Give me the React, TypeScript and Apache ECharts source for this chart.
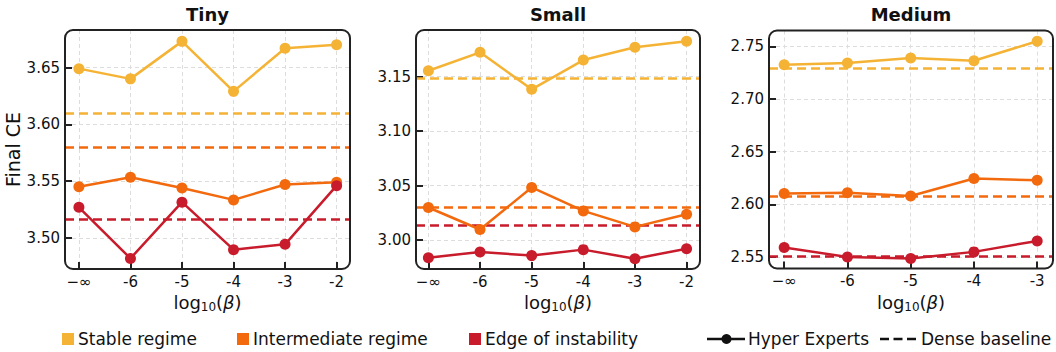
import React, { useEffect, useRef } from "react";
import * as echarts from "echarts";

const xLabelsLong = ["−∞", "-6", "-5", "-4", "-3", "-2"];
const xLabelsShort = ["−∞", "-6", "-5", "-4", "-3"];
const regimes = ["Stable regime", "Intermediate regime", "Edge of instability"];
const colors = ["#F5B335", "#F26A0D", "#C81B2B"];

const tinyStable = [3.649, 3.640, 3.673, 3.629, 3.667, 3.670];
const tinyInter = [3.545, 3.5535, 3.544, 3.5335, 3.547, 3.549];
const tinyEdge = [3.527, 3.482, 3.5315, 3.4897, 3.4944, 3.546];
const tinyBase = [3.6095, 3.5796, 3.5165];
const tinyTicks = [3.5, 3.55, 3.6, 3.65];

const smallStable = [3.1555, 3.1724, 3.1384, 3.1653, 3.177, 3.1825];
const smallInter = [3.0298, 3.0096, 3.0482, 3.0267, 3.012, 3.0236];
const smallEdge = [2.9837, 2.989, 2.9856, 2.9911, 2.9828, 2.992];
const smallBase = [3.149, 3.0298, 3.0133];
const smallTicks = [3.0, 3.05, 3.1, 3.15];

const mediumStable = [2.7326, 2.7342, 2.739, 2.7364, 2.755];
const mediumInter = [2.6102, 2.6111, 2.6079, 2.6245, 2.6229];
const mediumEdge = [2.559, 2.55, 2.5485, 2.5548, 2.5652];
const mediumBase = [2.7294, 2.6079, 2.551];
const mediumTicks = [2.55, 2.6, 2.65, 2.7, 2.75];

const FONT = "DejaVu Sans";

const panels = [
  { title: "Tiny", labels: xLabelsLong, series: [tinyStable, tinyInter, tinyEdge], base: tinyBase, ticks: tinyTicks,
    grid: { left: 65, top: 30, width: 285, height: 239 }, xMin: -0.27, xMax: 5.26, yMin: 3.4727, yMax: 3.683 },
  { title: "Small", labels: xLabelsLong, series: [smallStable, smallInter, smallEdge], base: smallBase, ticks: smallTicks,
    grid: { left: 416, top: 30, width: 284, height: 239 }, xMin: -0.24, xMax: 5.26, yMin: 2.9733, yMax: 3.1929 },
  { title: "Medium", labels: xLabelsShort, series: [mediumStable, mediumInter, mediumEdge], base: mediumBase, ticks: mediumTicks,
    grid: { left: 769, top: 30.5, width: 284, height: 238 }, xMin: -0.24, xMax: 4.25, yMin: 2.539, yMax: 2.7652 },
];

export default function App() {
  const ref = useRef<HTMLDivElement>(null);
  useEffect(() => {
    document.body.style.margin = "0";
    const chart = echarts.init(ref.current!, null, { renderer: "svg" });
    const grids: any[] = [];
    const xAxes: any[] = [];
    const yAxes: any[] = [];
    const series: any[] = [];
    const graphic: any[] = [];
    panels.forEach((p, pi) => {
      grids.push({ ...p.grid, containLabel: false });
      const labels = p.labels;
      xAxes.push({
        type: "value", gridIndex: pi, min: p.xMin, max: p.xMax, minInterval: 1, maxInterval: 1,
        axisLine: { show: false, onZero: false },
        axisTick: { show: true, inside: true, length: 7, customValues: labels.map((_, i) => i), lineStyle: { color: "#222", width: 2 } },
        axisLabel: { customValues: labels.map((_, i) => i), formatter: (v: number) => labels[Math.round(v)] ?? "",
          color: "#111", fontSize: 15, fontFamily: FONT, margin: 5 },
        splitLine: { show: true, lineStyle: { color: "#ddd", type: [4, 3], width: 1 } },
        name: "{a|log}{s|10}{a|(}{b|β}{a|)}", nameLocation: "middle", nameGap: 21,
        nameTextStyle: { rich: {
          a: { fontSize: 18, fontFamily: FONT, color: "#111" },
          s: { fontSize: 12, fontFamily: FONT, color: "#111", verticalAlign: "bottom", padding: [9, 0, 0, 0] },
          b: { fontSize: 18, fontFamily: FONT, color: "#111", fontStyle: "italic" },
        } },
      });
      yAxes.push({
        type: "value", gridIndex: pi, min: p.yMin, max: p.yMax, minInterval: 0.05, maxInterval: 0.05,
        axisLine: { show: false, onZero: false },
        axisTick: { show: true, inside: true, length: 7, customValues: p.ticks, lineStyle: { color: "#222", width: 2 } },
        axisLabel: { customValues: p.ticks, formatter: (v: number) => v.toFixed(2), color: "#111", fontSize: 15, fontFamily: FONT, margin: 5 },
        splitLine: { show: true, lineStyle: { color: "#ddd", type: [4, 3], width: 1 } },
        name: pi === 0 ? "Final CE" : "", nameLocation: "middle", nameGap: 41,
        nameTextStyle: { fontSize: 19, fontFamily: FONT, color: "#111" },
      });
      p.series.forEach((vals, si) => {
        series.push({
          type: "line", name: regimes[si], xAxisIndex: pi, yAxisIndex: pi,
          data: vals.map((v, i) => [i, v]),
          symbol: "circle", symbolSize: 11, z: 5,
          lineStyle: { color: colors[si], width: 2.5 },
          itemStyle: { color: colors[si] },
          markLine: {
            silent: true, symbol: ["none", "none"], label: { show: false }, z: 3, precision: 5,
            lineStyle: { color: colors[si], type: [9, 5], width: 2.5 },
            data: [{ yAxis: p.base[si] }],
          },
        });
      });
      graphic.push({
        type: "rect", z: 100, silent: true,
        shape: { x: p.grid.left, y: p.grid.top, width: p.grid.width, height: p.grid.height, r: 8 },
        style: { fill: "none", stroke: "#222", lineWidth: 2 },
      });
      graphic.push({
        type: "text", z: 100, x: p.grid.left + p.grid.width / 2, y: 14,
        style: { text: p.title, fontSize: 18, fontWeight: "bold", fontFamily: FONT, fill: "#111", align: "center", verticalAlign: "middle" },
      });
    });
    // legend
    const ly = 339;
    const squares = [62, 237, 469];
    regimes.forEach((r, i) => {
      graphic.push({ type: "rect", shape: { x: squares[i], y: ly - 6, width: 12, height: 12 }, style: { fill: colors[i] } });
      graphic.push({ type: "text", x: squares[i] + 16, y: ly, style: { text: r, fontSize: 17, fontFamily: FONT, fill: "#111", align: "left", verticalAlign: "middle" } });
    });
    graphic.push({ type: "line", shape: { x1: 707, y1: ly, x2: 745, y2: ly }, style: { stroke: "#111", lineWidth: 2.5 } });
    graphic.push({ type: "circle", shape: { cx: 726.5, cy: ly, r: 5 }, style: { fill: "#111" } });
    graphic.push({ type: "text", x: 748, y: ly, style: { text: "Hyper Experts", fontSize: 17, fontFamily: FONT, fill: "#111", align: "left", verticalAlign: "middle" } });
    graphic.push({ type: "line", shape: { x1: 880, y1: ly, x2: 916, y2: ly }, style: { stroke: "#111", lineWidth: 2.5, lineDash: [9, 4.5] } });
    graphic.push({ type: "text", x: 921, y: ly, style: { text: "Dense baseline", fontSize: 17, fontFamily: FONT, fill: "#111", align: "left", verticalAlign: "middle" } });

    chart.setOption({
      animation: false,
      backgroundColor: "#fff",
      grid: grids,
      xAxis: xAxes,
      yAxis: yAxes,
      series,
      graphic,
    });
    return () => chart.dispose();
  }, []);
  return <div ref={ref} style={{ width: 1056, height: 352 }} />;
}
